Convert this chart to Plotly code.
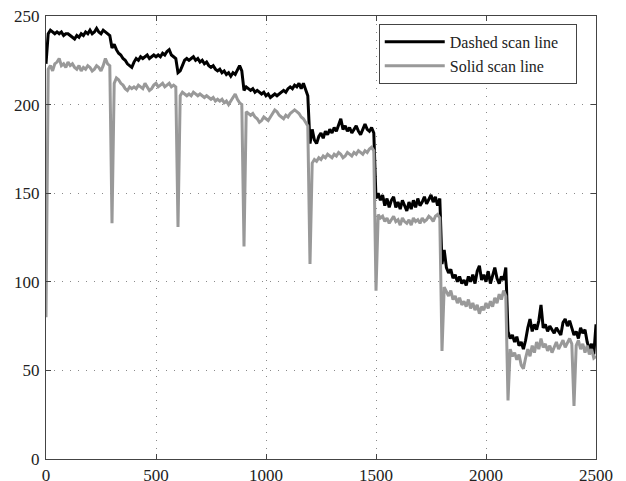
import plotly.graph_objects as go

# sample positions along the scan line
x_pos = list(range(0, 2501, 10))

# Dashed scan line (black) values, per 300-px block
dashed_b0 = [223, 240, 242, 241, 240, 241, 240, 241, 239, 240, 240, 239, 238, 237, 239, 238, 240, 239, 241, 240,
             242, 240, 241, 243, 241, 240, 242, 241, 240, 239]
dashed_b1 = [232, 234, 231, 229, 228, 226, 225, 223, 222, 221, 224, 226, 225, 227, 226, 227, 228, 226, 227, 228,
             227, 228, 227, 229, 228, 230, 231, 228, 227, 226]
dashed_b2 = [218, 219, 222, 225, 226, 225, 226, 227, 225, 226, 224, 225, 223, 224, 222, 221, 222, 220, 219, 220,
             218, 219, 217, 218, 216, 218, 217, 220, 222, 219]
dashed_b3 = [208, 210, 209, 208, 209, 207, 208, 207, 206, 207, 205, 206, 204, 205, 206, 205, 206, 207, 208, 207,
             209, 210, 209, 211, 210, 212, 209, 212, 208, 205]
dashed_b4 = [178, 186, 180, 178, 182, 184, 181, 185, 183, 186, 184, 187, 185, 189, 192, 186, 188, 185, 187, 184,
             186, 188, 185, 183, 186, 189, 186, 185, 187, 184]
dashed_b5 = [147, 150, 146, 149, 143, 147, 142, 146, 148, 142, 145, 141, 146, 143, 140, 145, 141, 146, 142, 147,
             143, 145, 148, 144, 147, 149, 145, 148, 143, 147]
dashed_b6 = [110, 118, 108, 105, 107, 102, 104, 100, 103, 99, 101, 98, 103, 100, 104, 99, 106, 109, 101, 104,
             100, 106, 99, 103, 108, 102, 99, 103, 101, 108]
dashed_b7 = [72, 68, 70, 66, 69, 64, 66, 62, 67, 74, 79, 72, 76, 73, 78, 87, 74, 76, 72, 75,
             73, 71, 74, 72, 70, 77, 79, 75, 78, 74, 70, 72, 68, 74, 71, 73, 66, 62, 65, 59, 76]

# Solid scan line (gray) values, per 300-px block
solid_b0 = [80, 220, 222, 219, 223, 224, 226, 222, 223, 221, 224, 222, 223, 221, 220, 222, 219, 221, 220, 222,
            221, 219, 220, 222, 221, 219, 222, 226, 223, 222]
solid_b1 = [133, 212, 215, 214, 212, 211, 209, 208, 210, 209, 210, 209, 211, 210, 209, 212, 210, 208, 209, 211,
            212, 210, 211, 212, 210, 211, 212, 210, 211, 210]
solid_b2 = [131, 205, 207, 206, 205, 206, 205, 207, 206, 205, 206, 205, 204, 205, 204, 203, 204, 202, 203, 202,
            203, 201, 202, 200, 202, 204, 206, 203, 201, 200]
solid_b3 = [120, 196, 195, 194, 195, 193, 192, 190, 191, 193, 192, 191, 193, 195, 197, 196, 194, 193, 192, 194,
            193, 195, 196, 197, 196, 195, 193, 192, 190, 188]
solid_b4 = [110, 167, 169, 168, 170, 169, 171, 170, 172, 171, 170, 172, 171, 173, 172, 170, 171, 173, 172, 171,
            173, 172, 174, 173, 172, 174, 173, 175, 176, 174]
solid_b5 = [95, 138, 136, 137, 134, 136, 133, 135, 137, 134, 135, 132, 136, 134, 133, 135, 132, 136, 134, 135,
            133, 136, 134, 135, 137, 136, 134, 137, 138, 136]
solid_b6 = [61, 97, 94, 92, 95, 90, 92, 88, 91, 87, 89, 86, 90, 85, 88, 84, 87, 82, 86, 84,
            88, 85, 89, 86, 91, 88, 93, 90, 95, 92]
solid_b7 = [33, 62, 58, 60, 56, 59, 53, 51, 57, 62, 58, 64, 60, 66, 62, 68, 63, 65, 61, 64,
            60, 63, 66, 62, 65, 67, 63, 66, 68, 65, 30, 64, 67, 62, 65, 60, 64, 59, 62, 57, 58]

dashed = dashed_b0 + dashed_b1 + dashed_b2 + dashed_b3 + dashed_b4 + dashed_b5 + dashed_b6 + dashed_b7
solid = solid_b0 + solid_b1 + solid_b2 + solid_b3 + solid_b4 + solid_b5 + solid_b6 + solid_b7
assert len(dashed) == len(x_pos) == len(solid)

x_ticks = [0, 500, 1000, 1500, 2000, 2500]
y_ticks = [0, 50, 100, 150, 200, 250]

font_family = "Liberation Serif, Times New Roman, serif"

fig = go.Figure()
fig.add_trace(go.Scatter(x=x_pos, y=dashed, mode="lines", name="Dashed scan line\u00a0\u00a0\u00a0",
                         line=dict(color="#000000", width=3)))
fig.add_trace(go.Scatter(x=x_pos, y=solid, mode="lines", name="Solid scan line",
                         line=dict(color="#999999", width=3)))

axis_common = dict(
    showline=True, linecolor="#444444", linewidth=1.2, mirror="ticks",
    ticks="inside", ticklen=5, tickcolor="#444444",
    showgrid=True, gridcolor="#8a8a8a", griddash="1px,7px", gridwidth=1.2,
    zeroline=False, automargin=False, ticklabeloverflow="allow",
    tickfont=dict(family=font_family, size=17, color="#222222"),
)

fig.update_xaxes(range=[0, 2500], tickvals=x_ticks, **axis_common)
fig.update_yaxes(range=[0, 250], tickvals=y_ticks, ticklabelstandoff=2, **axis_common)

# page has an 8px body margin, so the figure is sized to the remaining area
fig.update_layout(
    width=618, height=473,
    margin=dict(l=38, r=30, t=8, b=22),
    paper_bgcolor="white", plot_bgcolor="white",
    font=dict(family=font_family, size=17, color="#222222"),
    showlegend=True,
    legend=dict(x=0.605, y=0.982, xanchor="left", yanchor="top",
                bgcolor="white", bordercolor="#444444", borderwidth=1,
                font=dict(family=font_family, size=16, color="#222222"),
                tracegroupgap=0, itemwidth=60),
)

fig.write_html("out.html")
